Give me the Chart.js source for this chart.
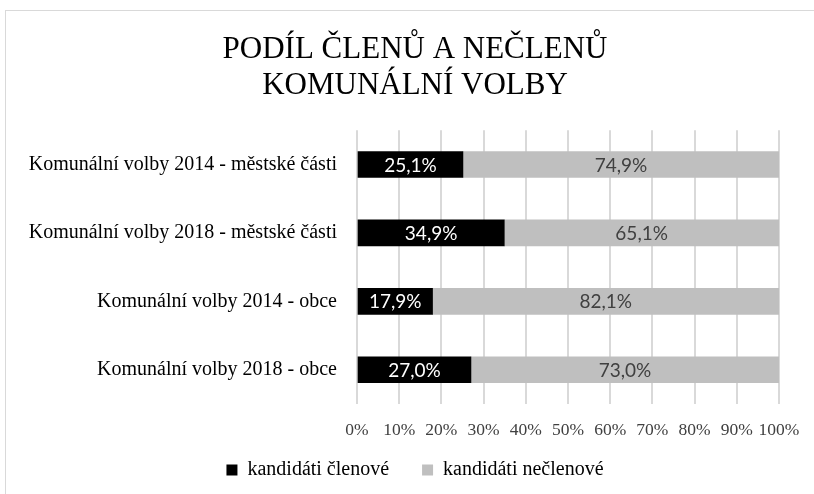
<!DOCTYPE html>
<html>
<head>
<meta charset="utf-8">
<script src="https://cdn.jsdelivr.net/npm/chart.js@4.4.1/dist/chart.umd.min.js"></script>
<style>
  html, body { margin: 0; padding: 0; background: #fff; overflow: hidden; }
  #frame {
    position: absolute; left: 5px; top: 10px;
    width: 820px; height: 500px;
    border: 1px solid #d9d9d9;
  }
  #wrap { position: absolute; left: 6px; top: 11px; width: 818px; height: 479px; }
</style>
</head>
<body>
<div id="frame"></div>
<div id="wrap"><canvas id="chart"></canvas></div>
<script>
// Categories (top to bottom)
const categories = [
    'Komunální volby 2014 - městské části',
    'Komunální volby 2018 - městské části',
    'Komunální volby 2014 - obce',
    'Komunální volby 2018 - obce'
];

// Share of candidates, in percent
const memberValues = [25.1, 34.9, 17.9, 27.0];
const nonMemberValues = [74.9, 65.1, 82.1, 73.0];

const seriesNames = ['kandidáti členové', 'kandidáti nečlenové'];
const titleLines = ['PODÍL ČLENŮ A NEČLENŮ', 'KOMUNÁLNÍ VOLBY'];

// Draw the value labels centred inside each bar segment
const barLabels = {
    id: 'barLabels',
    afterDatasetsDraw(chart) {
        const ctx = chart.ctx;
        ctx.save();
        ctx.font = '19px Lato';
        ctx.textAlign = 'center';
        ctx.textBaseline = 'middle';
        chart.data.datasets.forEach((ds, i) => {
            const meta = chart.getDatasetMeta(i);
            ctx.fillStyle = i === 0 ? '#ffffff' : '#404040';
            meta.data.forEach((bar, j) => {
                const text = ds.data[j].toFixed(1).replace('.', ',') + '%';
                ctx.fillText(text, (bar.x + bar.base) / 2, bar.y + 1);
            });
        });
        ctx.restore();
    }
};

const ctx = document.getElementById('chart').getContext('2d');
new Chart(ctx, {
    type: 'bar',
    data: {
        labels: categories,
        datasets: [{
            label: seriesNames[0],
            data: memberValues,
            backgroundColor: '#000000',
            barThickness: 26
        }, {
            label: seriesNames[1],
            data: nonMemberValues,
            backgroundColor: '#bfbfbf',
            barThickness: 26
        }]
    },
    options: {
        indexAxis: 'y',
        responsive: true,
        maintainAspectRatio: false,
        animation: false,
        layout: {
            padding: 0
        },
        scales: {
            x: {
                stacked: true,
                min: 0,
                max: 100,
                grid: { color: '#d9d9d9', lineWidth: 2, drawTicks: false },
                border: { display: false },
                // leave room on the right without moving the title centre
                afterFit: (axis) => { axis.paddingRight = 45; },
                ticks: {
                    stepSize: 10,
                    padding: 16,
                    maxRotation: 0,
                    autoSkip: false,
                    color: '#404040',
                    font: { family: 'Liberation Serif', size: 17.5 },
                    callback: (value) => value + '%'
                }
            },
            y: {
                stacked: true,
                grid: { display: false },
                border: { display: false },
                afterFit: (axis) => { axis.width = 351; },
                ticks: {
                    padding: 12,
                    color: '#000000',
                    font: { family: 'Liberation Serif', size: 20 }
                }
            }
        },
        plugins: {
            title: {
                display: true,
                text: titleLines,
                color: '#000000',
                font: { family: 'Liberation Serif', size: 31, weight: 'normal', lineHeight: 1.15 },
                padding: { top: 21, bottom: 27 }
            },
            legend: {
                position: 'bottom',
                labels: {
                    color: '#000000',
                    boxWidth: 11,
                    boxHeight: 11,
                    padding: 3,
                    font: { family: 'Liberation Serif', size: 20 },
                    // extra gap after the first item
                    generateLabels: (chart) => Chart.defaults.plugins.legend.labels.generateLabels(chart)
                        .map((item, i) => i === 0 ? { ...item, text: item.text + '      ' } : item)
                }
            },
            tooltip: { enabled: false }
        }
    },
    plugins: [barLabels]
});
</script>
</body>
</html>
